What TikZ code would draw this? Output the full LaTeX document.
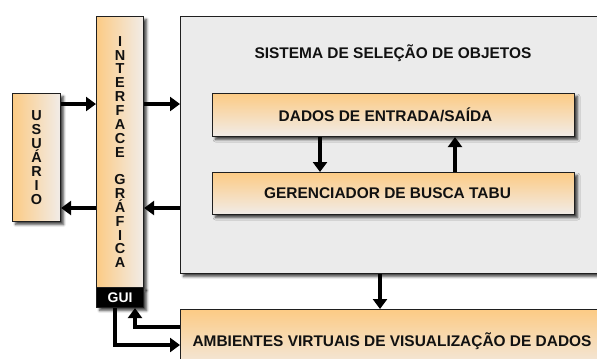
\documentclass[tikz,border=0pt]{standalone}
\usepackage{fontspec}
\setmainfont{Liberation Sans}
\usetikzlibrary{shadows.blur,arrows.meta,calc}
\definecolor{orangeA}{HTML}{FCCB85}
\definecolor{paleA}{HTML}{F1ECE8}
\definecolor{sysgray}{HTML}{EBEBEB}
\definecolor{ink}{HTML}{111111}
\begin{document}
\begin{tikzpicture}[x=1bp,y=-1bp,
  box/.style={draw=black!88, line width=1.1bp, inner sep=0pt, anchor=north west,
    blur shadow={shadow xshift=3bp, shadow yshift=-3bp, shadow opacity=75, shadow blur steps=6, shadow blur radius=2.5bp}},
  vbox/.style={box, left color=orangeA, right color=paleA},
  hbox/.style={box, top color=orangeA, bottom color=paleA},
  lbl/.style={font=\bfseries\fontsize{15.5}{18}\selectfont, text=ink},
  vlbl/.style={font=\bfseries\fontsize{14.5}{13.9}\selectfont, text=ink, align=center},
  arr/.style={line width=3.2bp, -{Triangle[width=14bp,length=10bp]}},
  ln/.style={line width=3bp}]
\useasboundingbox (0,0) rectangle (597,358);
\node[box, fill=sysgray, minimum width=426bp, minimum height=257bp] (sys) at (180,16) {};
\node[lbl, anchor=center] (systitle) at (393,53) {SISTEMA DE SELEÇÃO DE OBJETOS};
\node[hbox, minimum width=362bp, minimum height=43bp, lbl] (dados) at (212,93) {\kern-16bp DADOS DE ENTRADA/SAÍDA};
\node[hbox, minimum width=362bp, minimum height=42bp, lbl] (ger) at (212,172) {\kern-12bp GERENCIADOR DE BUSCA TABU};
\node[hbox, lbl, minimum height=64bp, inner xsep=12bp, inner ysep=0pt] (amb) at (180,309) {\makebox[402bp][l]{AMBIENTES VIRTUAIS DE VISUALIZAÇÃO DE DADOS}};
\node[vbox, minimum width=48bp, minimum height=128bp, vlbl] (usuario) at (12,93) {U\\S\\U\\Á\\R\\I\\O};
\node[vbox, minimum width=47bp, minimum height=271bp, vlbl] (gi) at (96,16) {I\\N\\T\\E\\R\\F\\A\\C\\E\\\mbox{}\\G\\R\\Á\\F\\I\\C\\A};
\node[box, fill=black, text=white, minimum width=47bp, minimum height=20bp, font=\bfseries\fontsize{14}{14}\selectfont] (guibar) at (96,287) {GUI};
\coordinate (yA) at (0,104);
\coordinate (yB) at (0,208);
\coordinate (yC) at (0,327);
\coordinate (yD) at (0,345);
\coordinate (xA) at (320,0);
\coordinate (xB) at (455,0);
\coordinate (xC) at (380,0);
\coordinate (xD) at (135,0);
\coordinate (xE) at (115,0);
\draw[arr] (usuario.east |- yA) -- (gi.west |- yA);
\draw[arr] (gi.east |- yA) -- (sys.west |- yA);
\draw[arr] (sys.west |- yB) -- (gi.east |- yB);
\draw[arr] (gi.west |- yB) -- (usuario.east |- yB);
\draw[arr] (dados.south -| xA) -- (ger.north -| xA);
\draw[arr] (ger.north -| xB) -- (dados.south -| xB);
\draw[arr] (sys.south -| xC) -- (amb.north -| xC);
\draw[arr] (amb.west |- yC) -| (guibar.south -| xD);
\draw[arr] (guibar.south -| xE) |- (amb.west |- yD);
\end{tikzpicture}
\end{document}
